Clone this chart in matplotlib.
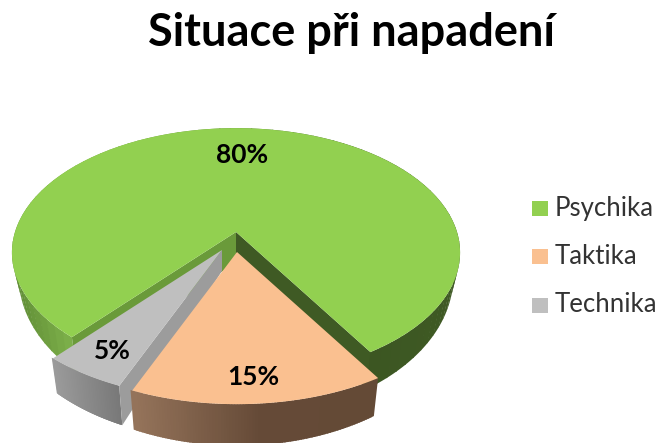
import numpy as np
import matplotlib
matplotlib.use("Agg")
import matplotlib.pyplot as plt
from matplotlib.colors import to_rgb
from matplotlib.patches import Rectangle

plt.rcParams['font.family'] = ['Lato', 'DejaVu Sans']

# Data
labels = ["Psychika", "Taktika", "Technika"]
values = [80, 15, 5]
pct_labels = ["80%", "15%", "5%"]
colors = ["#92D050", "#FAC090", "#BFBFBF"]
title = "Situace při napadení"

W, H = 661, 443
fig = plt.figure(figsize=(W / 100, H / 100), dpi=100)
# pixel coords, y pointing down
ax = fig.add_axes([0, 0, 1, 1])
ax.set_xlim(0, W)
ax.set_ylim(H, 0)
ax.axis("off")

# fake perspective of the tilted pie
R, B, P = 221, 121, 0.165
centers = [(236, 232), (237, 252), (222, 250)]
scales = [1.0, 1.05, 1.03]

# slice angles, green starts lower left and goes round clockwise on screen
spans = [v * 3.6 for v in values]
a_start = 130.5
a_green = (a_start, a_start + spans[0])
a_orange = (a_green[1] - 360, a_green[1] - 360 + spans[1])
a_grey = (a_orange[1], a_orange[1] + spans[2])


def project(c, a, k=1.0):
    a = np.radians(a)
    s = k / (1 - P * np.sin(a))
    return c[0] + R * np.cos(a) * s, c[1] + B * np.sin(a) * s


def lower(c, x, y):
    # the bottom face sits lower and a bit smaller toward the front
    dy = y - c[1]
    return c[0] + (x - c[0]) * 0.97, y + 21 + 0.135 * dy


def wall(c, k, a1, a2, xs, cols, z):
    n = 90
    aa = np.linspace(a1, a2, n + 1)
    stops = np.array([to_rgb(q) for q in cols])
    for i in range(n):
        seg = np.linspace(aa[i], aa[i + 1] + 0.4, 4)
        x, y = project(c, seg, k)
        x2, y2 = lower(c, x, y)
        col = [np.interp(x.mean(), xs, stops[:, j]) for j in range(3)]
        ax.fill(np.r_[x, x2[::-1]], np.r_[y, y2[::-1]], color=col, lw=0, zorder=z)


def flat(c, k, a, col, z, drop=21):
    x, y = project(c, a, k)
    x2, y2 = lower(c, x, y)
    ax.fill([c[0], x, x2, c[0]], [c[1], y, y2, c[1] + drop], color=col, lw=0, zorder=z)


def top(c, k, a1, a2, col, z):
    x, y = project(c, np.linspace(a1, a2, 200), k)
    ax.fill(np.r_[c[0], x], np.r_[c[1], y], color=col, lw=0, zorder=z)


# green
c, k = centers[0], scales[0]
wall(c, k, *a_green, [11, 70, 240, 372, 461], ["#5f8c35", "#7db04a", "#5f8c35", "#3c5622", "#3f5a24"], 1)
flat(c, k, a_green[1], "#3f5a24", 2)
flat(c, k, a_green[0], "#6a9a3a", 2, drop=30)
top(c, k, *a_green, colors[0], 3)

# grey
c, k = centers[2], scales[2]
wall(c, k, *a_grey, [52, 121], ["#9b9b9b", "#777777"], 4)
flat(c, k, a_grey[0], "#9c9c9c", 5)
top(c, k, *a_grey, colors[2], 6)

# orange
c, k = centers[1], scales[1]
wall(c, k, *a_orange, [135, 260, 378], ["#94735a", "#654a37", "#644a36"], 7)
top(c, k, *a_orange, colors[1], 8)

# labels on the slices
label_pos = [(242, 155), (253, 377), (112, 351)]
for p, s in zip(label_pos, pct_labels):
    ax.text(p[0], p[1], s, ha="center", va="center", fontsize=19,
            fontweight="bold", color="black", zorder=10)

ax.text(352, 33, title, ha="center", va="center", fontsize=32.5,
        fontweight="bold", color="black")

# legend
leg_y = [208, 256.5, 305]
for y, lab, col in zip(leg_y, labels, colors):
    ax.add_patch(Rectangle((532, y - 7.5), 16, 15, color=col, lw=0))
    ax.text(555, y, lab, ha="left", va="center", fontsize=18.5, color="#333333")

fig.savefig("out.png", dpi=100, facecolor="white")
